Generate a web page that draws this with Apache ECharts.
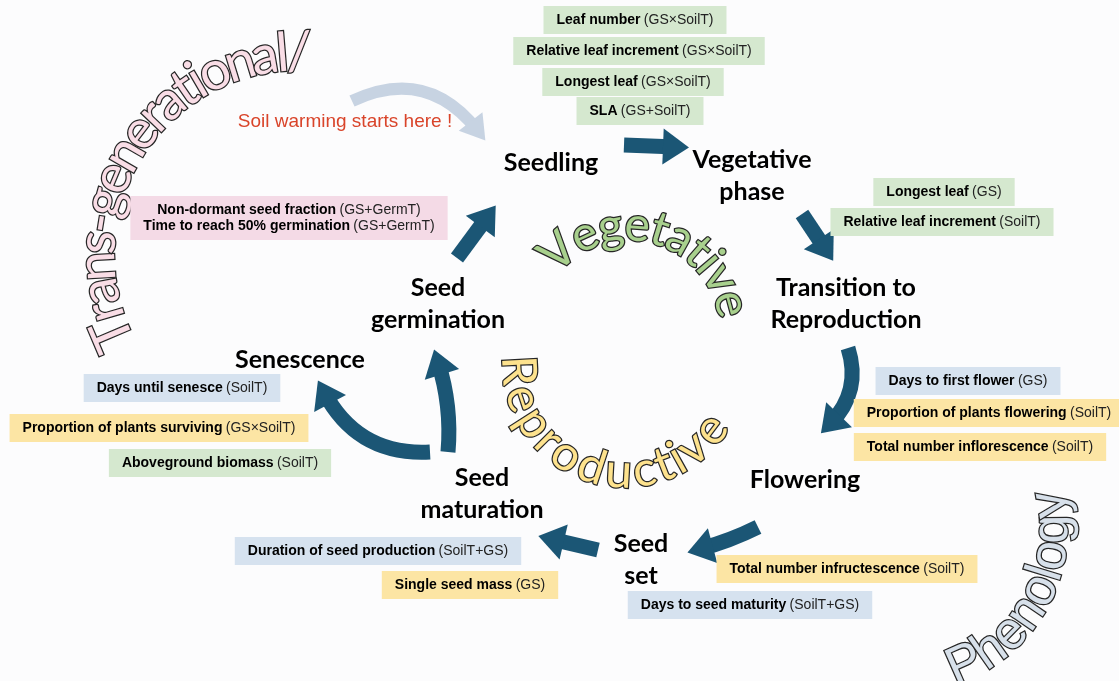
<!DOCTYPE html>
<html>
<head>
<meta charset="utf-8">
<title>Life cycle</title>
<script src="https://cdn.jsdelivr.net/npm/echarts@6/dist/echarts.min.js"></script>
<style>
html, body { margin: 0; padding: 0; background: #fcfcfd; }
#main { width: 1119px; height: 681px; }
</style>
</head>
<body>
<div id="main"></div>
<script>
// stages of the life cycle (centre of each label)
var stageNames = ['Seedling', 'Vegetative\nphase', 'Transition to\nReproduction', 'Flowering',
                  'Seed\nset', 'Seed\nmaturation', 'Senescence', 'Seed\ngermination'];
var stageX = [551, 752, 846, 805, 641, 482, 300, 438];
var stageY = [163, 176, 304, 480, 560, 494, 360, 304];

// measured traits: name, treatment effect, colour group
var traitNames = ['Leaf number', 'Relative leaf increment', 'Longest leaf', 'SLA',
                  'Longest leaf', 'Relative leaf increment',
                  'Days to first flower', 'Proportion of plants flowering', 'Total number inflorescence',
                  'Total number infructescence', 'Days to seed maturity',
                  'Duration of seed production', 'Single seed mass',
                  'Days until senesce', 'Proportion of plants surviving', 'Aboveground biomass',
                  'Non-dormant seed fraction|Time to reach 50% germination'];
var traitEffects = ['(GS×SoilT)', '(GS×SoilT)', '(GS×SoilT)', '(GS+SoilT)',
                    '(GS)', '(SoilT)',
                    '(GS)', '(SoilT)', '(SoilT)',
                    '(SoilT)', '(SoilT+GS)',
                    '(SoilT+GS)', '(GS)',
                    '(SoilT)', '(GS×SoilT)', '(SoilT)',
                    '(GS+GermT)'];
var traitGroups = ['veg', 'veg', 'veg', 'veg', 'veg', 'veg',
                   'time', 'repro', 'repro', 'repro', 'time',
                   'time', 'repro', 'time', 'repro', 'veg', 'germ'];
var traitX = [635, 639, 633, 640, 944, 942, 968, 989, 980, 847, 750, 378, 470, 182, 159, 220, 289];
var traitY = [20, 51, 82, 111, 192, 222, 381, 413, 447, 569, 605, 551, 585, 388, 428, 463, 218];

// note
var noteText = ['Soil warming starts here !'];
var noteX = [345];
var noteY = [122];

// arrows between stages
var warmFrom = [352, 101];
var warmTo = [478, 131];
var warmBend = 0.4;
var arrowFrom = [[624, 145], [802, 214], [848, 348], [758, 527], [598, 550], [430, 452], [448, 452], [457, 258]];
var arrowTo = [[676, 147], [826, 250], [830, 424], [700, 549], [551, 539], [324, 392], [438, 362], [488, 216]];
var arrowBend = [0, 0, 0.3, 0.05, 0, 0.32, -0.1, 0];

// curved words: centre of arc, radius, first and last letter angle (deg)
var arcWords = ['Trans-generational/', 'Vegetative', 'Reproductive', 'Phenology'];
var arcCx = [299, 629, 625, 905];
var arcCy = [255, 331, 365, 530];
var arcR = [202, 106, 107, 148];
var arcFrom = [157, -132, 177, 66];
var arcTo = [270, -15, 37, -10];

var groupColor = { veg: '#d5e8cf', repro: '#fce5a4', time: '#d6e2ef', germ: '#f4dae6' };
var arcFill = ['#f9dde6', '#a8d08d', '#fde28d', '#d7e0ea'];
var arcFamily = ['Lato', 'Lato', 'Lato', 'Liberation Sans'];
var arcSize = [54, 48, 48, 52];

var myChart = echarts.init(document.getElementById('main'));
var ctx = document.createElement('canvas').getContext('2d');

// letters placed along an arc
function arcLetters(k) {
    var word = arcWords[k];
    ctx.font = arcSize[k] + 'px ' + arcFamily[k];
    var pos = [], acc = 0;
    for (var i = 0; i < word.length; i++) {
        var w = ctx.measureText(word[i]).width;
        pos.push(acc + w / 2);
        acc += w;
    }
    var first = pos[0], last = pos[pos.length - 1];
    var inward = arcTo[k] < arcFrom[k];
    var out = [];
    for (i = 0; i < word.length; i++) {
        var deg = arcFrom[k] + (arcTo[k] - arcFrom[k]) * (pos[i] - first) / (last - first);
        var rad = deg * Math.PI / 180;
        out.push({
            value: [arcCx[k] + arcR[k] * Math.cos(rad), arcCy[k] + arcR[k] * Math.sin(rad)],
            label: { formatter: word[i], rotate: inward ? -(deg + 270) : -(deg + 90) }
        });
    }
    return out;
}

// invisible point, only the label is seen
var hidden = { color: 'transparent', opacity: 1 };

var arcSeries = arcWords.map(function (w, k) {
    return {
        type: 'scatter',
        silent: true,
        symbolSize: 1,
        itemStyle: hidden,
        label: {
            show: true,
            position: 'inside',
            align: 'center',
            verticalAlign: 'middle',
            fontFamily: arcFamily[k],
            fontSize: arcSize[k],
            color: arcFill[k],
            opacity: 1,
            textBorderColor: '#262626',
            textBorderWidth: 2.5
        },
        data: arcLetters(k),
        z: 2
    };
});

var traitData = traitNames.map(function (n, i) {
    var txt = n.split('|').map(function (s) {
        return '{b|' + s + '} {n|' + traitEffects[i] + '}';
    }).join('\n');
    return {
        value: [traitX[i], traitY[i]],
        label: { formatter: txt, backgroundColor: groupColor[traitGroups[i]] }
    };
});

var stageData = stageNames.map(function (n, i) {
    return { value: [stageX[i], stageY[i]], label: { formatter: n } };
});

var arrowData = arrowFrom.map(function (p, i) {
    return { coords: [p, arrowTo[i]], lineStyle: { curveness: arrowBend[i] } };
});

var option = {
    backgroundColor: '#fcfcfd',
    animation: false,
    grid: { left: 0, right: 0, top: 0, bottom: 0 },
    xAxis: { type: 'value', min: 0, max: 1119, show: false },
    yAxis: { type: 'value', min: 0, max: 681, inverse: true, show: false },
    series: [
        {
            // pale arrow from the note
            type: 'lines',
            coordinateSystem: 'cartesian2d',
            silent: true,
            symbol: ['none', 'triangle'],
            symbolSize: [1, [30, 24]],
            lineStyle: { color: '#c7d3e2', width: 12, opacity: 1 },
            data: [{ coords: [warmFrom, warmTo], lineStyle: { curveness: warmBend } }],
            z: 1
        },
        {
            type: 'lines',
            coordinateSystem: 'cartesian2d',
            silent: true,
            symbol: ['none', 'triangle'],
            symbolSize: [1, [36, 26]],
            lineStyle: { color: '#1b5675', width: 15, opacity: 1 },
            data: arrowData,
            z: 1
        }
    ].concat(arcSeries).concat([
        {
            type: 'scatter',
            silent: true,
            symbolSize: 1,
            itemStyle: hidden,
            label: {
                show: true,
                position: 'inside',
                align: 'center',
                verticalAlign: 'middle',
                padding: [6, 13],
                lineHeight: 16,
                opacity: 1,
                textBorderWidth: 0,
                rich: {
                    b: { fontFamily: 'Liberation Sans', fontWeight: 'bold', fontSize: 14, color: '#000', lineHeight: 16, textBorderWidth: 0 },
                    n: { fontFamily: 'Liberation Sans', fontSize: 14, color: '#222', lineHeight: 16, textBorderWidth: 0 }
                }
            },
            data: traitData,
            z: 3
        },
        {
            type: 'scatter',
            silent: true,
            symbolSize: 1,
            itemStyle: hidden,
            label: {
                show: true,
                position: 'inside',
                align: 'center',
                verticalAlign: 'middle',
                fontFamily: 'Lato',
                fontWeight: 'bold',
                fontSize: 25,
                lineHeight: 32,
                color: '#000',
                opacity: 1,
                textBorderWidth: 0
            },
            data: stageData,
            z: 4
        },
        {
            type: 'scatter',
            silent: true,
            symbolSize: 1,
            itemStyle: hidden,
            label: {
                show: true,
                position: 'inside',
                align: 'center',
                verticalAlign: 'middle',
                fontFamily: 'Liberation Sans',
                fontSize: 19,
                color: '#d9442a',
                opacity: 1,
                textBorderWidth: 0,
                formatter: function (p) { return noteText[p.dataIndex]; }
            },
            data: noteX.map(function (x, i) { return [x, noteY[i]]; }),
            z: 4
        }
    ])
};

myChart.setOption(option);
</script>
</body>
</html>
